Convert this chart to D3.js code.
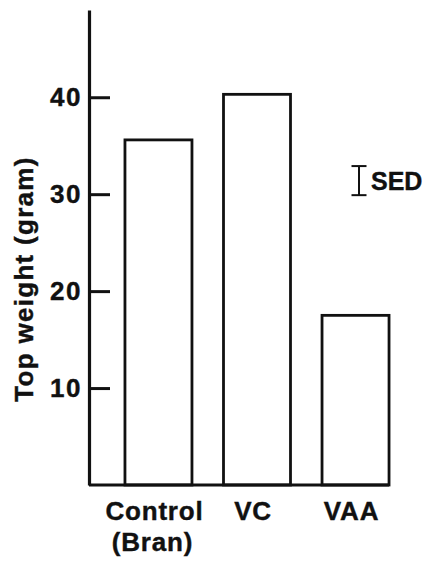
<!DOCTYPE html>
<html><head><meta charset="utf-8">
<script src="https://cdn.jsdelivr.net/npm/d3@7"></script>
<style>
html,body{margin:0;padding:0;background:#fff;}
svg{display:block;}
text{font-family:"Liberation Sans",Arial,Helvetica,sans-serif;font-weight:bold;fill:#111;stroke:#111;stroke-width:0.4;}
</style></head>
<body>
<svg id="chart" width="428" height="562"></svg>
<script>
const categories = ["Control", "VC", "VAA"];
const subLabels = ["(Bran)", "", ""];
const topWeight = [35.6, 40.3, 17.5];
const yTicks = [10, 20, 30, 40];
const sedValue = 3.0;
const sedCentre = 31.4;
const yTitle = "Top weight (gram)";

const svg = d3.select("#chart");
const ink = "#111";
const x0 = 89, baseY = 485;

const y = d3.scaleLinear().domain([0, 49]).range([baseY, 10]);
const x = d3.scaleBand().domain(categories).range([x0, 425]).paddingInner(0.32).paddingOuter(0.365);

// bars
svg.append("g").selectAll("rect").data(categories).join("rect")
  .attr("x", d => x(d))
  .attr("y", (d, i) => y(topWeight[i]))
  .attr("width", x.bandwidth())
  .attr("height", (d, i) => y(0) - y(topWeight[i]))
  .attr("fill", "none").attr("stroke", ink).attr("stroke-width", 2.8);

// baseline
svg.append("line")
  .attr("x1", x0).attr("x2", x(categories[categories.length - 1]) + x.bandwidth())
  .attr("y1", y(0)).attr("y2", y(0))
  .attr("stroke", ink).attr("stroke-width", 3);

// y axis
const yAxis = d3.axisLeft(y).tickValues(yTicks).tickSizeInner(-21).tickSizeOuter(0).tickPadding(7);
const gy = svg.append("g").attr("transform", `translate(${x0},0)`).call(yAxis);
gy.select(".domain").attr("stroke", ink).attr("stroke-width", 3.2);
gy.selectAll(".tick line").attr("stroke", ink).attr("stroke-width", 3);
gy.selectAll(".tick text").attr("font-size", 26).attr("fill", ink).attr("letter-spacing", 1.5)
  .attr("font-family", "Liberation Sans, Arial, sans-serif").attr("font-weight", "bold");

// x labels
const gx = svg.append("g");
gx.selectAll("text.cat").data(categories).join("text").attr("class", "cat")
  .attr("x", d => x(d) + x.bandwidth() / 2 - 4)
  .attr("y", 520).attr("text-anchor", "middle").attr("font-size", 26)
  .attr("letter-spacing", 0.8)
  .text(d => d);
gx.selectAll("text.sub").data(categories).join("text").attr("class", "sub")
  .attr("x", d => x(d) + x.bandwidth() / 2 - 6)
  .attr("y", 551).attr("text-anchor", "middle").attr("font-size", 26)
  .attr("letter-spacing", 0.8)
  .text((d, i) => subLabels[i]);

// y title
svg.append("text")
  .attr("transform", `translate(33,279) rotate(-90)`)
  .attr("text-anchor", "middle").attr("font-size", 26).attr("letter-spacing", 1.3)
  .text(yTitle);

// SED bar
const sx = 359, cap = 7.5;
const sTop = y(sedCentre + sedValue / 2), sBot = y(sedCentre - sedValue / 2);
const sg = svg.append("g").attr("stroke", ink).attr("stroke-width", 2);
sg.append("line").attr("x1", sx).attr("x2", sx).attr("y1", sTop).attr("y2", sBot);
sg.append("line").attr("x1", sx - cap).attr("x2", sx + cap).attr("y1", sTop).attr("y2", sTop);
sg.append("line").attr("x1", sx - cap).attr("x2", sx + cap).attr("y1", sBot).attr("y2", sBot);
svg.append("text").attr("x", 371).attr("y", 190).attr("font-size", 25).text("SED");
</script>
</body></html>
